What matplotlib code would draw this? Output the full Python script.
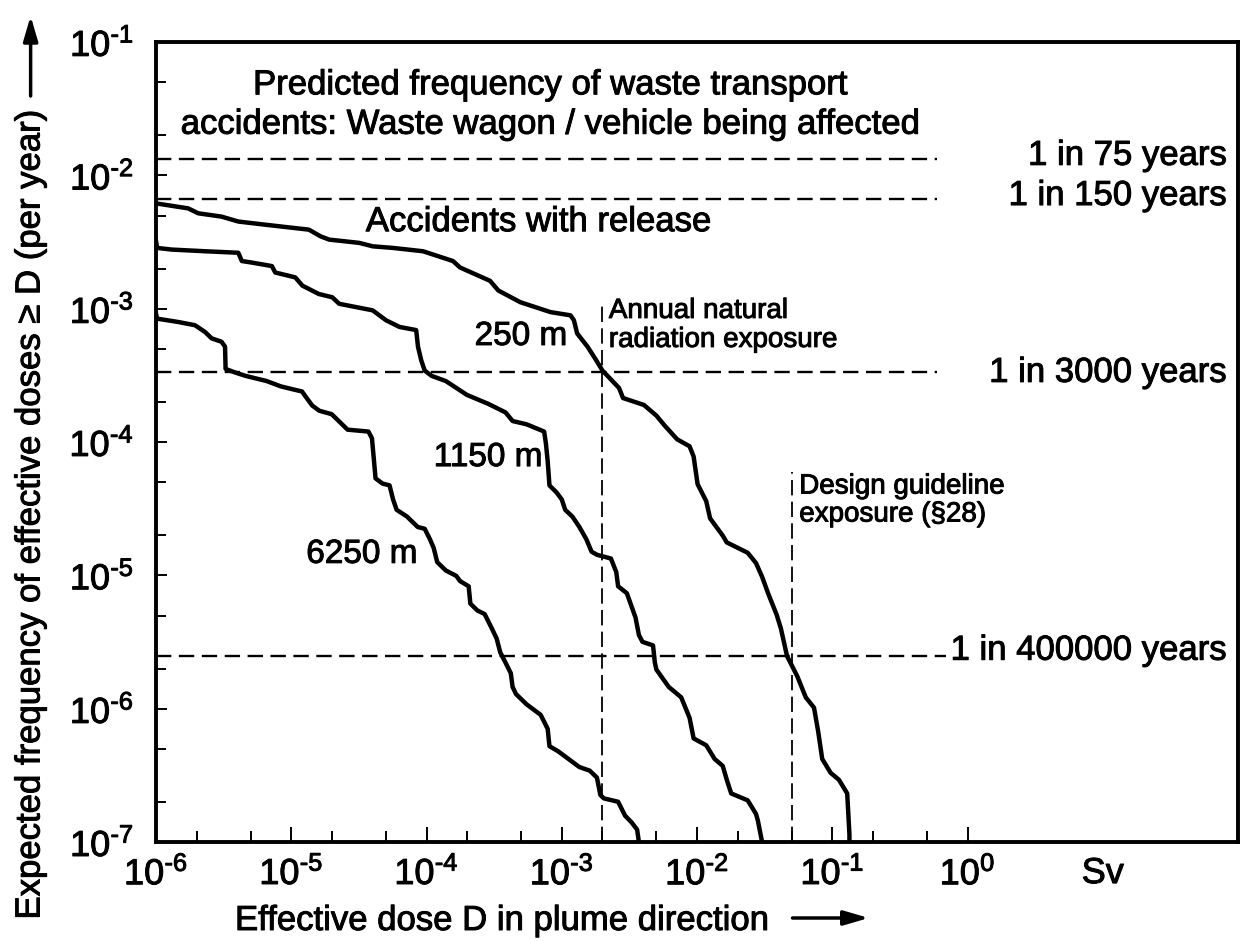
import matplotlib
matplotlib.use("Agg")
import matplotlib.pyplot as plt
import matplotlib.patheffects as pe
from matplotlib.text import Text

plt.rcParams['font.family'] = ['Liberation Sans', 'DejaVu Sans']
plt.rcParams['mathtext.fontset'] = 'custom'
plt.rcParams['mathtext.rm'] = 'Liberation Sans'
plt.rcParams['mathtext.it'] = 'Liberation Sans:italic'
plt.rcParams['mathtext.bf'] = 'Liberation Sans:bold'

# exceedance curves (dose in Sv, frequency per year)
dose_250 = [1.0e-6, 1.73e-6, 2.05e-6, 3.05e-6, 4.06e-6, 6.43e-6, 1.35e-5, 1.65e-5, 1.91e-5, 3.18e-5,
            4.0e-5, 5.64e-5, 9.42e-5, 1.12e-4, 1.57e-4, 1.77e-4, 2.95e-4, 3.40e-4, 4.94e-4, 8.26e-4,
            1.16e-3, 1.23e-3, 1.30e-3, 1.55e-3, 1.79e-3, 2.0e-3, 2.65e-3, 2.84e-3, 4.05e-3, 5.01e-3,
            5.77e-3, 7.13e-3, 8.81e-3, 9.44e-3, 1.01e-2, 1.17e-2, 1.25e-2, 1.55e-2, 1.66e-2, 2.37e-2,
            2.73e-2, 3.03e-2, 3.37e-2, 3.88e-2, 4.17e-2, 4.63e-2, 5.52e-2, 6.37e-2, 7.33e-2, 7.87e-2,
            8.43e-2, 9.73e-2, 0.112, 0.129, 0.134, 0.134]
freq_250 = [6.17e-3, 5.66e-3, 5.20e-3, 4.91e-3, 4.51e-3, 4.27e-3, 3.92e-3, 3.49e-3, 3.30e-3, 3.12e-3,
            2.94e-3, 2.86e-3, 2.70e-3, 2.55e-3, 2.28e-3, 2.04e-3, 1.62e-3, 1.37e-3, 1.12e-3, 9.44e-4,
            8.93e-4, 8.20e-4, 6.53e-4, 5.20e-4, 4.14e-4, 3.44e-4, 2.55e-4, 2.14e-4, 1.90e-4, 1.58e-4,
            1.33e-4, 1.05e-4, 9.31e-5, 7.80e-5, 4.84e-5, 3.61e-5, 2.68e-5, 1.99e-5, 1.77e-5, 1.48e-5,
            1.24e-5, 9.77e-6, 7.26e-6, 5.08e-6, 4.01e-6, 2.49e-6, 1.75e-6, 1.22e-6, 1.02e-6, 6.76e-7,
            4.21e-7, 3.31e-7, 2.94e-7, 2.32e-7, 1.14e-7, 1.0e-7]

dose_1150 = [1.0e-6, 1.02e-6, 1.30e-6, 2.30e-6, 4.06e-6, 4.31e-6, 5.12e-6, 7.19e-6, 7.62e-6, 1.07e-5,
             1.21e-5, 1.60e-5, 2.01e-5, 2.26e-5, 4.0e-5, 5.02e-5, 6.31e-5, 8.39e-5, 8.65e-5, 9.14e-5,
             9.70e-5, 1.09e-4, 1.39e-4, 1.66e-4, 1.99e-4, 2.85e-4, 3.84e-4, 4.33e-4, 5.50e-4, 7.41e-4,
             7.64e-4, 7.87e-4, 8.11e-4, 9.14e-4, 1.0e-3, 1.06e-3, 1.20e-3, 1.35e-3, 1.52e-3, 1.66e-3,
             1.82e-3, 2.31e-3, 2.53e-3, 2.61e-3, 3.03e-3, 3.51e-3, 3.72e-3, 3.95e-3, 4.73e-3, 4.88e-3,
             5.01e-3, 6.18e-3, 7.64e-3, 8.81e-3, 9.44e-3, 1.17e-2, 1.35e-2, 1.55e-2, 1.66e-2, 1.79e-2,
             2.37e-2, 2.73e-2, 2.82e-2, 3.03e-2]
freq_1150 = [3.21e-3, 2.86e-3, 2.78e-3, 2.70e-3, 2.63e-3, 2.28e-3, 2.22e-3, 2.09e-3, 1.87e-3, 1.72e-3,
             1.49e-3, 1.29e-3, 1.22e-3, 1.09e-3, 9.73e-4, 8.20e-4, 7.31e-4, 6.92e-4, 5.20e-4, 4.11e-4,
             3.44e-4, 3.14e-4, 2.87e-4, 2.55e-4, 2.26e-4, 1.94e-4, 1.67e-4, 1.44e-4, 1.36e-4, 1.20e-4,
             9.73e-5, 7.21e-5, 4.74e-5, 4.20e-5, 3.72e-5, 3.11e-5, 2.76e-5, 2.31e-5, 1.87e-5, 1.51e-5,
             1.43e-5, 1.34e-5, 1.06e-5, 8.30e-6, 7.36e-6, 4.84e-6, 3.58e-6, 3.18e-6, 2.99e-6, 2.22e-6,
             1.97e-6, 1.46e-6, 1.22e-6, 8.57e-7, 6.0e-7, 5.33e-7, 4.21e-7, 3.73e-7, 2.94e-7, 2.32e-7,
             2.06e-7, 1.63e-7, 1.45e-7, 1.0e-7]

dose_6250 = [1.0e-6, 1.02e-6, 1.46e-6, 1.94e-6, 2.30e-6, 2.58e-6, 3.05e-6, 3.24e-6, 3.27e-6, 3.84e-6,
             4.59e-6, 6.58e-6, 8.36e-6, 1.06e-5, 1.20e-5, 1.31e-5, 1.43e-5, 1.61e-5, 1.99e-5, 2.45e-5,
             2.61e-5, 3.72e-5, 3.95e-5, 4.07e-5, 4.20e-5, 4.73e-5, 5.33e-5, 5.66e-5, 6.01e-5, 7.19e-5,
             8.61e-5, 9.70e-5, 1.06e-4, 1.13e-4, 1.20e-4, 1.39e-4, 1.66e-4, 1.77e-4, 2.05e-4, 2.11e-4,
             2.38e-4, 2.69e-4, 3.03e-4, 3.30e-4, 3.51e-4, 3.84e-4, 4.20e-4, 4.33e-4, 4.59e-4, 5.50e-4,
             6.98e-4, 7.87e-4, 8.11e-4, 9.42e-4, 1.06e-3, 1.35e-3, 1.61e-3, 1.82e-3, 1.93e-3, 2.05e-3,
             2.61e-3, 2.94e-3, 3.30e-3, 3.61e-3, 3.72e-3]
freq_6250 = [9.18e-4, 8.43e-4, 7.96e-4, 7.53e-4, 6.71e-4, 6.0e-4, 5.66e-4, 5.20e-4, 3.54e-4, 3.33e-4,
             3.14e-4, 2.87e-4, 2.62e-4, 2.47e-4, 2.40e-4, 2.12e-4, 1.88e-4, 1.72e-4, 1.62e-4, 1.32e-4,
             1.24e-4, 1.20e-4, 1.07e-4, 7.66e-5, 5.35e-5, 4.89e-5, 4.74e-5, 3.72e-5, 3.11e-5, 2.76e-5,
             2.31e-5, 2.24e-5, 1.87e-5, 1.61e-5, 1.26e-5, 1.09e-5, 9.93e-6, 9.08e-6, 8.30e-6, 6.15e-6,
             5.46e-6, 5.14e-6, 4.04e-6, 3.37e-6, 2.65e-6, 2.22e-6, 1.85e-6, 1.46e-6, 1.29e-6, 1.08e-6,
             9.02e-7, 7.08e-7, 5.25e-7, 4.80e-7, 4.39e-7, 3.66e-7, 3.44e-7, 3.05e-7, 2.26e-7, 2.13e-7,
             2.01e-7, 1.58e-7, 1.40e-7, 1.24e-7, 1.0e-7]

# reference frequencies (1 in N years)
ref_years = [75, 150, 3000, 400000]
ref_labels = ["1 in 75 years", "1 in 150 years", "1 in 3000 years", "1 in 400000 years"]

# dose limits (Sv)
limit_doses = [2e-3, 0.05]
limit_labels = ["Annual natural\nradiation exposure", "Design guideline\nexposure (§28)"]

xtick_vals = [1e-6, 1e-5, 1e-4, 1e-3, 1e-2, 1e-1, 1e0, 1e1]
xtick_labels = [r"$10^{\text{-6}}$", r"$10^{\text{-5}}$", r"$10^{\text{-4}}$", r"$10^{\text{-3}}$",
                r"$10^{\text{-2}}$", r"$10^{\text{-1}}$", r"$10^{0}$", "Sv"]
ytick_vals = [1e-7, 1e-6, 1e-5, 1e-4, 1e-3, 1e-2, 1e-1]
ytick_labels = [r"$10^{\text{-7}}$", r"$10^{\text{-6}}$", r"$10^{\text{-5}}$", r"$10^{\text{-4}}$",
                r"$10^{\text{-3}}$", r"$10^{\text{-2}}$", r"$10^{\text{-1}}$"]

fig = plt.figure(figsize=(12.5, 9.41), dpi=100)
ax = fig.add_axes([0.1248, 0.105, 0.8656, 0.8503])
ax.set_xscale("log")
ax.set_yscale("log")
ax.set_xlim(1e-6, 1e2)
ax.set_ylim(1e-7, 1e-1)

# curves
for d, f in [(dose_250, freq_250), (dose_1150, freq_1150), (dose_6250, freq_6250)]:
    ax.plot(d, f, color="black", lw=3.2, solid_joinstyle="round", zorder=3)

# horizontal reference lines
for n, lab in zip(ref_years, ref_labels):
    fr = 1.0 / n
    xend = 0.69 if n == 400000 else 0.59
    ax.hlines(fr, 1e-6, xend, colors="black", lw=1.7, linestyles=(0, (6.5, 3.2)), zorder=2)
    shift = {75: 1.06, 150: 1.06, 3000: 1.0, 400000: 1.1}[n]
    ax.text(83, fr * shift, lab, ha="right", va="center", fontsize=25)

# vertical limit lines
for xd, top in zip(limit_doses, [1.1e-3, 6e-5]):
    ax.vlines(xd, 1e-7, top, colors="black", lw=1.3, linestyles=(0, (8.5, 3.5)), zorder=2)

ax.text(2.23e-3, 7.5e-4, limit_labels[0], ha="left", va="center", fontsize=20, linespacing=1.15)
ax.text(5.7e-2, 3.65e-5, limit_labels[1], ha="left", va="center", fontsize=20, linespacing=1.1)

# annotations
ax.text(8.3e-4, 0.0478, "Predicted frequency of waste transport", ha="center", va="center", fontsize=25)
ax.text(8.3e-4, 0.0242, "accidents: Waste wagon / vehicle being affected", ha="center", va="center", fontsize=25)
ax.text(3.56e-5, 4.5e-3, "Accidents with release", ha="left", va="center", fontsize=25)
ax.text(1.1e-3, 6.2e-4, "250 m", ha="right", va="center", fontsize=24)
ax.text(7.2e-4, 7.66e-5, "1150 m", ha="right", va="center", fontsize=24)
ax.text(8.6e-5, 1.44e-5, "6250 m", ha="right", va="center", fontsize=24)

# ticks
ax.set_xticks(xtick_vals, labels=xtick_labels)
ax.set_xticks([m * 10.0 ** e for e in range(-6, 0) for m in (2, 5)], minor=True)
ax.set_yticks(ytick_vals, labels=ytick_labels)
ax.set_yticks([m * 10.0 ** e for e in range(-7, -1) for m in (2, 5)], minor=True)
ax.xaxis.set_minor_formatter(plt.NullFormatter())
ax.yaxis.set_minor_formatter(plt.NullFormatter())
ax.tick_params(axis="x", which="major", direction="in", length=11, width=1.4, labelsize=26, pad=10)
ax.tick_params(axis="x", which="minor", direction="in", length=8, width=1.4)
ax.tick_params(axis="y", which="major", direction="in", length=8, width=1.4, labelsize=26, pad=16)
ax.tick_params(axis="y", which="minor", direction="in", length=7, width=1.4)
ax.xaxis.get_major_ticks()[-1].tick1line.set_visible(False)

for s in ax.spines.values():
    s.set_linewidth(2.8)

# axis labels with arrows
fig.text(0.188, 1 - 930 / 941, "Effective dose D in plume direction", ha="left", va="baseline", fontsize=25)
ax.annotate("", xy=(0.695, 1 - 918 / 941), xytext=(0.634, 1 - 918 / 941),
            xycoords="figure fraction", textcoords="figure fraction",
            arrowprops=dict(arrowstyle="-|>,head_length=0.75,head_width=0.22", lw=2.5,
                            color="black", shrinkA=0, shrinkB=0, mutation_scale=20))
fig.text(0.024, 1 - 108 / 941, "Expected frequency of effective doses \u2265 D (per year)",
         rotation=90, ha="center", va="top", fontsize=25)
ax.annotate("", xy=(0.0245, 1 - 16 / 941), xytext=(0.0245, 1 - 96 / 941),
            xycoords="figure fraction", textcoords="figure fraction",
            arrowprops=dict(arrowstyle="-|>,head_length=0.75,head_width=0.22", lw=2.5,
                            color="black", shrinkA=0, shrinkB=0, mutation_scale=20))

# the printed original has heavier type than Liberation Sans regular
for t in fig.findobj(Text):
    t.set_path_effects([pe.withStroke(linewidth=0.7, foreground="black")])

fig.savefig("out.png", dpi=100)
